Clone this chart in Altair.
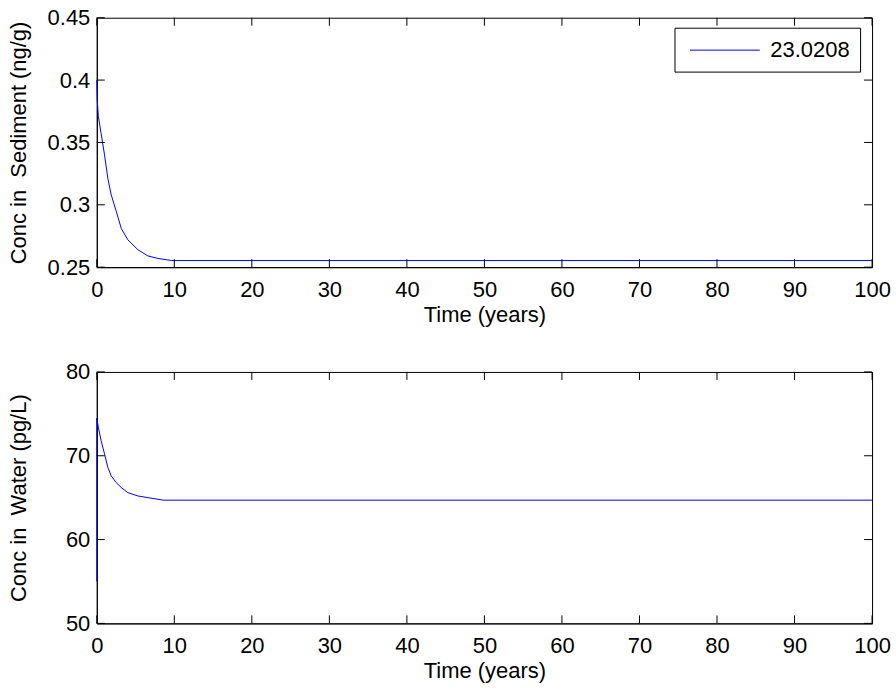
import altair as alt
import pandas as pd

# ---- data ----
top_t = [0, 0.05, 0.2, 0.56, 1.0, 1.43, 1.86, 2.5, 3.16, 4.0, 5.3, 6.6, 7.9, 9.65, 100]
top_v = [0.400, 0.385, 0.371, 0.357, 0.340, 0.321, 0.308, 0.295, 0.281, 0.272,
         0.264, 0.259, 0.257, 0.2553, 0.2553]
bot_t = [0, 0, 0.2, 0.56, 1.0, 1.43, 1.86, 2.5, 3.16, 4.0, 5.3, 6.6, 8.6, 100]
bot_v = [55.0, 74.5, 73.4, 71.8, 70.2, 68.6, 67.6, 66.8, 66.2, 65.6, 65.2, 65.0, 64.7, 64.7]
series_name = "23.0208"

x_ticks = [0, 10, 20, 30, 40, 50, 60, 70, 80, 90, 100]
top_y_ticks = [0.25, 0.3, 0.35, 0.4, 0.45]
bot_y_ticks = [50, 60, 70, 80]

FONT = "Liberation Sans"
FS = 22
W = 777
H1 = 250
H2 = 252
TL = 8  # inside tick length
BLUE = "#0000ff"


def panel(t, v, y_dom, y_ticks, y_title, y_fmt, height, legend):
    df = pd.DataFrame({"t": t, "y": v, "i": list(range(len(t))), "s": [series_name] * len(t)})
    xt = pd.DataFrame({"t": x_ticks})
    yt = pd.DataFrame({"y": y_ticks})
    x_enc = alt.X("t:Q", scale=alt.Scale(domain=[0, 100], nice=False),
                  axis=alt.Axis(values=x_ticks, tickSize=0, labelPadding=12, title="Time (years)",
                                titlePadding=4))
    y_enc = alt.Y("y:Q", scale=alt.Scale(domain=y_dom, nice=False, zero=False),
                  axis=alt.Axis(values=y_ticks, tickSize=0, labelPadding=7, format=y_fmt,
                                title=y_title, titleX=-78, titleY=height / 2,
                                titleBaseline="middle", titleAngle=270))
    if legend:
        color = alt.Color("s:N", scale=alt.Scale(range=[BLUE]),
                          legend=alt.Legend(title=None, orient="none", legendX=579, legendY=10,
                                            strokeColor="black", fillColor="white", padding=10,
                                            symbolType="M-3,0H3", symbolSize=544,
                                            symbolStrokeWidth=1, symbolOffset=28,
                                            labelOffset=33, labelFont=FONT, labelFontSize=FS,
                                            labelColor="black", cornerRadius=0))
        line = alt.Chart(df).mark_line(strokeWidth=1).encode(x=x_enc, y=y_enc, order="i:Q", color=color)
    else:
        line = alt.Chart(df).mark_line(strokeWidth=1, color=BLUE).encode(x=x_enc, y=y_enc, order="i:Q")
    xb = alt.Chart(xt).mark_rule(color="black").encode(x=x_enc, y=alt.value(height), y2=alt.value(height - TL))
    xtp = alt.Chart(xt).mark_rule(color="black").encode(x=x_enc, y=alt.value(0), y2=alt.value(TL))
    yl = alt.Chart(yt).mark_rule(color="black").encode(y=y_enc, x=alt.value(0), x2=alt.value(TL))
    yr = alt.Chart(yt).mark_rule(color="black").encode(y=y_enc, x=alt.value(W), x2=alt.value(W - TL))
    return alt.layer(line, xb, xtp, yl, yr).properties(width=W, height=height)


top = panel(top_t, top_v, [0.25, 0.45], top_y_ticks, "Conc in\u00a0 Sediment (ng/g)", ".2~f", H1, True)
bot = panel(bot_t, bot_v, [50, 80], bot_y_ticks, "Conc in\u00a0 Water (pg/L)", "d", H2, False)

chart = alt.vconcat(top, bot, spacing=105, bounds="flush").properties(
    padding={"left": 7, "top": 5, "right": 5, "bottom": 5},
    background="white",
).configure_view(stroke="black", strokeWidth=1).configure_axis(
    labelFont=FONT, labelFontSize=FS, labelColor="black", titleFont=FONT, titleFontSize=FS,
    titleFontWeight="normal", titleColor="black", domainColor="black", grid=False,
    labelFlush=False, labelOverlap=False,
)

chart.save("out.html", embed_options={"renderer": "svg", "actions": False})
